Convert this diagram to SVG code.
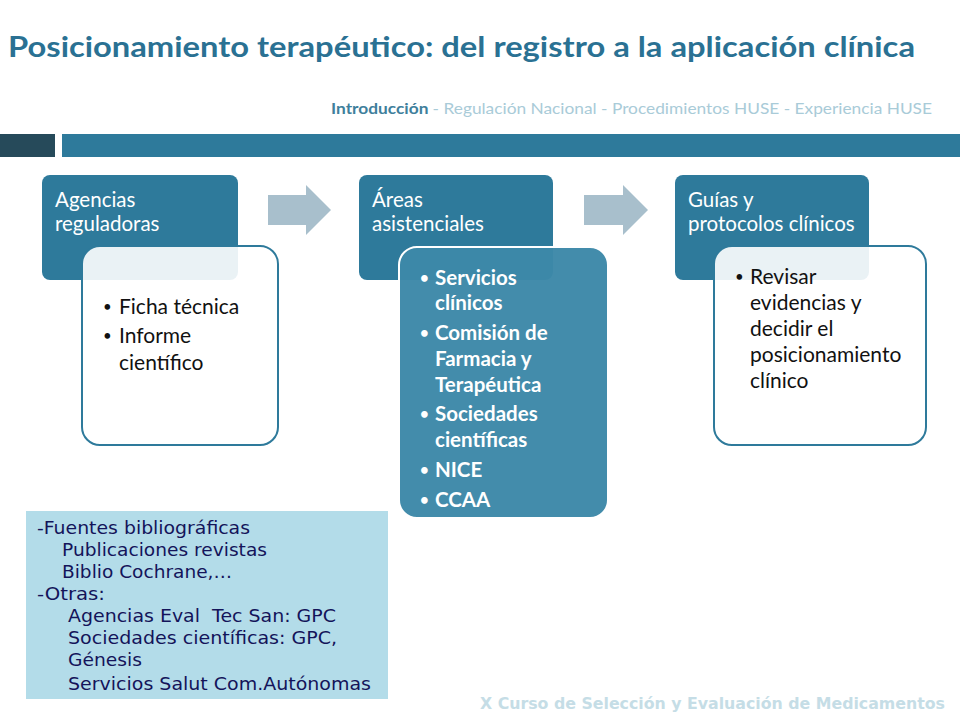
<svg xmlns="http://www.w3.org/2000/svg" width="960" height="720" viewBox="0 0 960 720">
<style>
.hdr{fill:#2e7a9b}
.ht{font-family:Lato,"Open Sans",sans-serif;font-size:20.5px;fill:#ffffff}
.bt{font-family:Lato,"Open Sans",sans-serif;font-size:21px;fill:#111111}
.wt{font-family:Lato,"Open Sans",sans-serif;font-size:20.5px;fill:#ffffff;font-weight:bold}
.bu{font-family:Lato,"Open Sans",sans-serif;font-size:15px}
.inW{fill:#ffffff;fill-opacity:0.9;stroke:#2e7a9b;stroke-width:2}
.inB{fill:#3d88a8;fill-opacity:0.97;stroke:#ffffff;stroke-width:2}
.arr{fill:#a8bfcc}
.src{font-family:"DejaVu Sans",Verdana,sans-serif;font-size:18px;fill:#14145a}
</style>
<rect width="960" height="720" fill="#ffffff"/>
<text x="8" y="57" font-family="Lato,'Open Sans',sans-serif" font-weight="bold" font-size="28" fill="#2a7193" textLength="907" lengthAdjust="spacingAndGlyphs">Posicionamiento terapéutico: del registro a la aplicación clínica</text>
<text x="331" y="114" font-family="Lato,'Open Sans',sans-serif" font-size="15" textLength="601" lengthAdjust="spacingAndGlyphs"><tspan fill="#3f7f9c" font-weight="bold">Introducción </tspan><tspan fill="#a9cbd8"> - Regulación Nacional - Procedimientos HUSE - Experiencia HUSE</tspan></text>
<rect x="0" y="134" width="55" height="23" fill="#264a5a"/>
<rect x="62" y="134" width="898" height="23" fill="#2e7a9b"/>

<g id="connectors">
<polygon class="arr" points="268,195 306,195 306,185 331,210 306,235 306,225 268,225"/>
<polygon class="arr" points="584,195 623,195 623,185 648,210 623,235 623,225 584,225"/>
</g>

<g id="node-agencias">
<rect class="hdr" x="42" y="175" width="196" height="105" rx="8"/>
<text class="ht" x="55" y="207">Agencias</text>
<text class="ht" x="55" y="231">reguladoras</text>
<rect class="inW" x="82" y="246" width="196" height="199" rx="18"/>
<text class="bt bu" x="103" y="312">•</text><text class="bt" x="119" y="314">Ficha técnica</text>
<text class="bt bu" x="103" y="341">•</text><text class="bt" x="119" y="343">Informe</text>
<text class="bt" x="119" y="370">científico</text>
</g>

<g id="node-areas">
<rect class="hdr" x="359" y="175" width="194" height="105" rx="8"/>
<text class="ht" x="372" y="207">Áreas</text>
<text class="ht" x="372" y="231">asistenciales</text>
<rect class="inB" x="399" y="247" width="209" height="271" rx="18"/>
<text class="wt bu" x="420" y="283">•</text><text class="wt" x="435" y="285">Servicios</text>
<text class="wt" x="435" y="310">clínicos</text>
<text class="wt bu" x="420" y="338">•</text><text class="wt" x="435" y="340">Comisión de</text>
<text class="wt" x="435" y="366">Farmacia y</text>
<text class="wt" x="435" y="392">Terapéutica</text>
<text class="wt bu" x="420" y="419">•</text><text class="wt" x="435" y="421">Sociedades</text>
<text class="wt" x="435" y="447">científicas</text>
<text class="wt bu" x="420" y="475">•</text><text class="wt" x="435" y="477">NICE</text>
<text class="wt bu" x="420" y="505">•</text><text class="wt" x="435" y="507">CCAA</text>
</g>

<g id="node-guias">
<rect class="hdr" x="675" y="175" width="194" height="105" rx="8"/>
<text class="ht" x="688" y="207">Guías y</text>
<text class="ht" x="688" y="231">protocolos clínicos</text>
<rect class="inW" x="714" y="246" width="212" height="199" rx="18"/>
<text class="bt bu" x="735" y="282">•</text><text class="bt" x="750" y="284">Revisar</text>
<text class="bt" x="750" y="310">evidencias y</text>
<text class="bt" x="750" y="336">decidir el</text>
<text class="bt" x="750" y="362">posicionamiento</text>
<text class="bt" x="750" y="388">clínico</text>
</g>

<g id="node-fuentes">
<rect x="26" y="511" width="362" height="188" fill="#b3dce9"/>
<text class="src" x="37" y="534" textLength="213" lengthAdjust="spacingAndGlyphs">-Fuentes bibliográficas</text>
<text class="src" x="62" y="556" textLength="205" lengthAdjust="spacingAndGlyphs">Publicaciones revistas</text>
<text class="src" x="62" y="578" textLength="170" lengthAdjust="spacingAndGlyphs">Biblio Cochrane,…</text>
<text class="src" x="37" y="600" textLength="68" lengthAdjust="spacingAndGlyphs">-Otras:</text>
<text class="src" x="68" y="622" xml:space="preserve" textLength="268" lengthAdjust="spacingAndGlyphs">Agencias Eval  Tec San: GPC</text>
<text class="src" x="68" y="644" textLength="269" lengthAdjust="spacingAndGlyphs">Sociedades científicas: GPC,</text>
<text class="src" x="68" y="666" textLength="74" lengthAdjust="spacingAndGlyphs">Génesis</text>
<text class="src" x="68" y="690" textLength="303" lengthAdjust="spacingAndGlyphs">Servicios Salut Com.Autónomas</text>
</g>

<text x="480" y="709" font-family="'DejaVu Sans',Verdana,sans-serif" font-weight="bold" font-size="15" fill="#c5dde6" textLength="465" lengthAdjust="spacingAndGlyphs">X Curso de Selección y Evaluación de Medicamentos</text>
</svg>
